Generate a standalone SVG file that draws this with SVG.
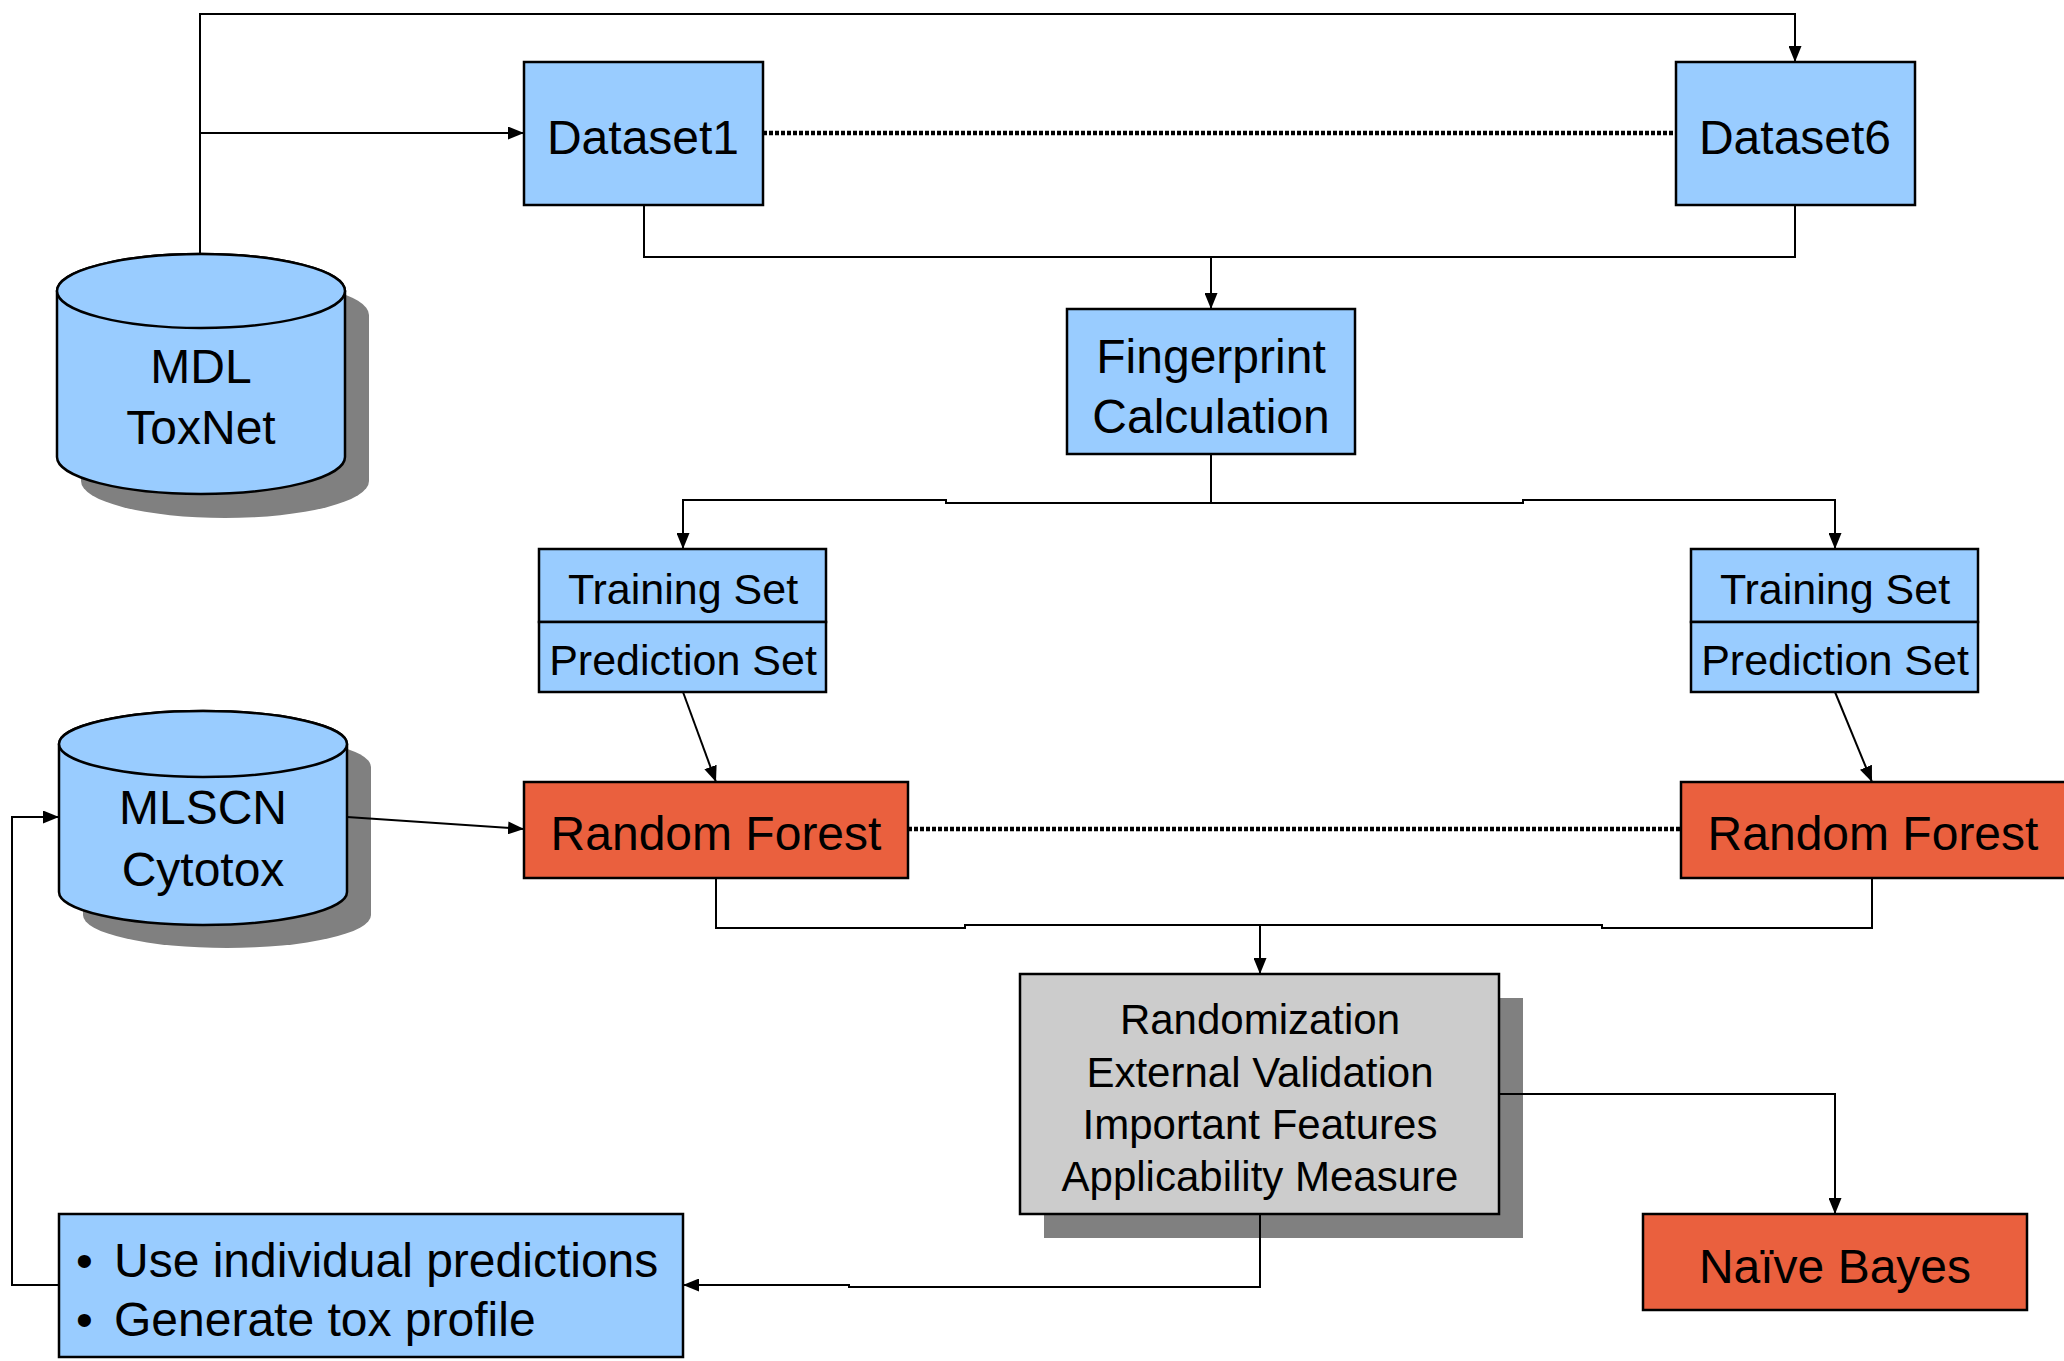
<svg xmlns="http://www.w3.org/2000/svg" width="2064" height="1361" viewBox="0 0 2064 1361">
<defs>
<marker id="ah" markerUnits="userSpaceOnUse" markerWidth="17" markerHeight="13" refX="16" refY="6.5" orient="auto">
<path d="M0,0 L16,6.5 L0,13 z" fill="#000"/>
</marker>
<style>
.blue{fill:#99CCFF;stroke:#000;stroke-width:2.5}
.red{fill:#EA603E;stroke:#000;stroke-width:2.5}
.gray{fill:#CCCCCC;stroke:#000;stroke-width:2.5}
.shadow{fill:#808080;stroke:none}
.conn{fill:none;stroke:#000;stroke-width:2}
.arr{fill:none;stroke:#000;stroke-width:2;marker-end:url(#ah)}
.dot{fill:none;stroke:#000;stroke-width:4.5;stroke-dasharray:4 2}
text{font-family:"Liberation Sans",Arial,Helvetica,sans-serif;fill:#000}
.t48{font-size:48px;text-anchor:middle}
.t43{font-size:43px;text-anchor:middle}
.t42{font-size:42px;text-anchor:middle}
.t48b{font-size:48px}
</style>
</defs>
<rect width="2064" height="1361" fill="#fff"/>

<g id="mdl-toxnet">
<path class="shadow" d="M81,315 L81,481 A144,37 0 0 0 369,481 L369,315 A144,37 0 0 0 81,315 z"/>
<path class="blue" d="M57,291 L57,457 A144,37 0 0 0 345,457 L345,291 A144,37 0 0 0 57,291 z"/>
<ellipse class="blue" cx="201" cy="291" rx="144" ry="37"/>
<text class="t48" x="201" y="383">MDL</text>
<text class="t48" x="201" y="444">ToxNet</text>
</g>

<g id="dataset1">
<rect class="blue" x="524" y="62" width="239" height="143"/>
<text class="t48" x="643" y="154">Dataset1</text>
</g>

<g id="dataset6">
<rect class="blue" x="1676" y="62" width="239" height="143"/>
<text class="t48" x="1795" y="154">Dataset6</text>
</g>

<g id="fingerprint">
<rect class="blue" x="1067" y="309" width="288" height="145"/>
<text class="t48" x="1211" y="373">Fingerprint</text>
<text class="t48" x="1211" y="433">Calculation</text>
</g>

<g id="sets-left">
<rect class="blue" x="539" y="549" width="287" height="73"/>
<rect class="blue" x="539" y="622" width="287" height="70"/>
<text class="t43" x="683" y="604">Training Set</text>
<text class="t43" x="683" y="675">Prediction Set</text>
</g>

<g id="sets-right">
<rect class="blue" x="1691" y="549" width="287" height="73"/>
<rect class="blue" x="1691" y="622" width="287" height="70"/>
<text class="t43" x="1835" y="604">Training Set</text>
<text class="t43" x="1835" y="675">Prediction Set</text>
</g>

<g id="mlscn-cytotox">
<path class="shadow" d="M83,767 L83,915 A144,33 0 0 0 371,915 L371,767 A144,33 0 0 0 83,767 z"/>
<path class="blue" d="M59,744 L59,892 A144,33 0 0 0 347,892 L347,744 A144,33 0 0 0 59,744 z"/>
<ellipse class="blue" cx="203" cy="744" rx="144" ry="33"/>
<text class="t48" x="203" y="824">MLSCN</text>
<text class="t48" x="203" y="886">Cytotox</text>
</g>

<g id="rf-left">
<rect class="red" x="524" y="782" width="384" height="96"/>
<text class="t48" x="716" y="850">Random Forest</text>
</g>

<g id="rf-right">
<rect class="red" x="1681" y="782" width="390" height="96"/>
<text class="t48" x="1873" y="850">Random Forest</text>
</g>

<g id="validation">
<rect class="shadow" x="1044" y="998" width="479" height="240"/>
<rect class="gray" x="1020" y="974" width="479" height="240"/>
<text class="t42" x="1260" y="1034">Randomization</text>
<text class="t42" x="1260" y="1087">External Validation</text>
<text class="t42" x="1260" y="1139">Important Features</text>
<text class="t42" x="1260" y="1191">Applicability Measure</text>
</g>

<g id="naive-bayes">
<rect class="red" x="1643" y="1214" width="384" height="96"/>
<text class="t48" x="1835" y="1283">Naïve Bayes</text>
</g>

<g id="usage">
<rect class="blue" x="59" y="1214" width="624" height="143"/>
<text class="t48b" x="76" y="1277">•</text>
<text class="t48b" x="114" y="1277">Use individual predictions</text>
<text class="t48b" x="76" y="1336">•</text>
<text class="t48b" x="114" y="1336">Generate tox profile</text>
</g>

<g id="connectors">
<path class="arr" d="M200,254 L200,14 L1795,14 L1795,62"/>
<path class="arr" d="M200,133 L524,133"/>
<path class="dot" d="M763,133 L1676,133"/>
<path class="conn" d="M644,205 L644,257 L1795,257 L1795,205"/>
<path class="arr" d="M1211,257 L1211,309"/>
<path class="conn" d="M1211,454 L1211,503"/>
<path class="arr" d="M1211,503 L946,503 L946,500 L683,500 L683,549"/>
<path class="arr" d="M1211,503 L1523,503 L1523,500 L1835,500 L1835,549"/>
<path class="arr" d="M683,692 L716,782"/>
<path class="arr" d="M1835,692 L1872,782"/>
<path class="arr" d="M347,817 L524,829"/>
<path class="dot" d="M908,829 L1681,829"/>
<path class="conn" d="M716,878 L716,928 L965,928 L965,925 L1260,925"/>
<path class="conn" d="M1872,878 L1872,928 L1602,928 L1602,925 L1260,925"/>
<path class="arr" d="M1260,925 L1260,974"/>
<path class="arr" d="M1499,1094 L1835,1094 L1835,1214"/>
<path class="arr" d="M1260,1214 L1260,1287 L849,1287 L849,1285 L683,1285"/>
<path class="arr" d="M59,1285 L12,1285 L12,817 L59,817"/>
</g>
</svg>
